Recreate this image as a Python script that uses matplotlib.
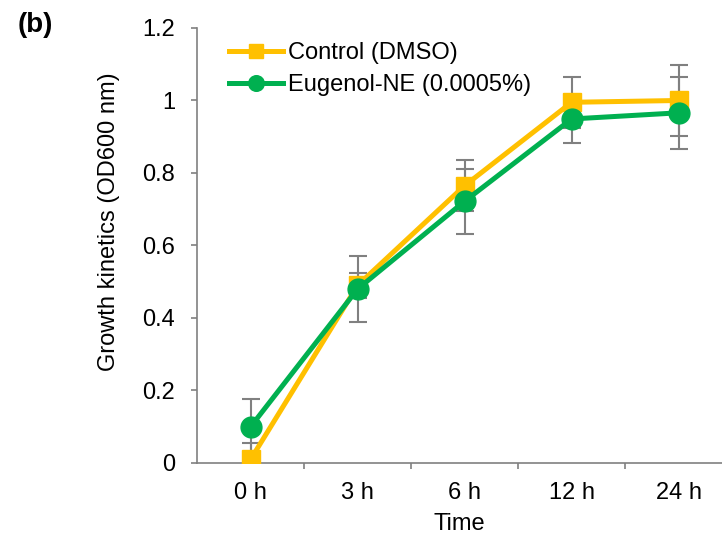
import numpy as np
import matplotlib
matplotlib.use("Agg")
import matplotlib.pyplot as plt

plt.rcParams['font.family'] = ['Liberation Sans', 'DejaVu Sans']

# data
time_labels = ['0 h', '3 h', '6 h', '12 h', '24 h']
control_mean = [0.01, 0.49, 0.765, 0.995, 1.0]
control_err = [0.045, 0.035, 0.07, 0.07, 0.098]
eugenol_mean = [0.10, 0.48, 0.722, 0.949, 0.966]
eugenol_err = [0.077, 0.09, 0.089, 0.066, 0.099]

orange = '#FFC000'
green = '#00B050'
grey = '#808080'
fs = 17

fig = plt.figure(figsize=(7.22, 5.35), dpi=100)
ax = fig.add_axes([0.273, 0.1346, 0.727, 0.8131])

x = np.arange(len(time_labels))

ax.errorbar(x, control_mean, yerr=control_err, fmt='none', ecolor=grey,
            elinewidth=1.5, capsize=6.5, capthick=1.5, zorder=1)
ax.errorbar(x, eugenol_mean, yerr=eugenol_err, fmt='none', ecolor=grey,
            elinewidth=1.5, capsize=6.5, capthick=1.5, zorder=1)

ax.plot(x, control_mean, color=orange, lw=3.6, marker='s', ms=13,
        label='Control (DMSO)', zorder=3)
ax.plot(x, eugenol_mean, color=green, lw=3.6, marker='o', ms=15,
        label='Eugenol-NE (0.0005%)', zorder=4)

ax.set_xlim(-0.5, 4.405)
ax.set_ylim(0, 1.2)
ax.set_yticks([0, 0.2, 0.4, 0.6, 0.8, 1.0, 1.2])
ax.set_yticklabels(['0', '0.2', '0.4', '0.6', '0.8', '1', '1.2'])
ax.set_xticks(x)
ax.set_xticklabels(time_labels)
ax.set_xticks(np.arange(0.5, 4.0, 1.0), minor=True)
ax.tick_params(axis='x', which='major', length=0, labelsize=fs, pad=14)
ax.tick_params(axis='x', which='minor', length=4.5, color=grey, width=1.2)
ax.tick_params(axis='y', length=4.5, color=grey, width=1.2, labelsize=fs, pad=11.5)

for s in ['top', 'right']:
    ax.spines[s].set_visible(False)
for s in ['left', 'bottom']:
    ax.spines[s].set_color(grey)
    ax.spines[s].set_linewidth(1.2)

ax.set_xlabel('Time', fontsize=fs)
ax.xaxis.set_label_coords(0.5, -0.115)
ax.xaxis.label.set_va('top')
ax.set_ylabel('Growth kinetics (OD600 nm)', fontsize=fs)
ax.yaxis.set_label_coords(-0.147, 0.554)

ax.legend(loc='upper left', bbox_to_anchor=(0.033, 1.0), frameon=False,
          fontsize=fs, handlelength=2.3, handletextpad=0.2, labelspacing=0.42,
          markerscale=0.75, borderaxespad=0.2)

fig.text(35 / 722, 1 - 25 / 535, '(b)', fontsize=20, fontweight='bold',
         ha='center', va='center')

fig.savefig('out.png', dpi=100)
